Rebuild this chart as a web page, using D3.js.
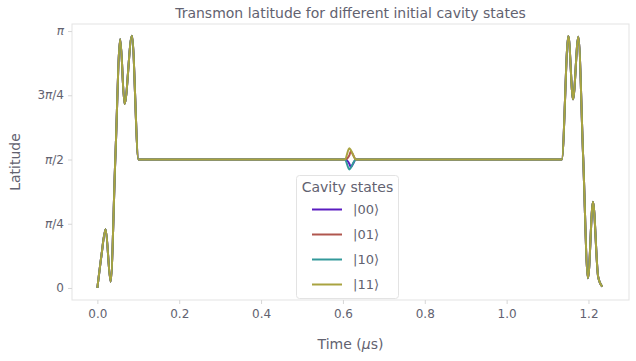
<!DOCTYPE html>
<html>
<head>
<meta charset="utf-8">
<script src="https://cdn.jsdelivr.net/npm/d3@7/dist/d3.min.js"></script>
<style>
body{margin:0;background:#fff;}
svg text{font-family:"DejaVu Sans",sans-serif;fill:#626270;}
</style>
</head>
<body>
<svg id="chart" width="636" height="361"></svg>
<script>
// ---- data ----
const seriesNames = ["|00\u27E9", "|01\u27E9", "|10\u27E9", "|11\u27E9"];
const seriesColors = ["#5a1cc0", "#b0564e", "#33999a", "#a9a340"];
const time = [0, 0.010, 0.0202, 0.0323, 0.044, 0.0559, 0.0664, 0.0844, 0.1004,
  0.605, 0.6156, 0.619, 0.632, 0.64,
  1.1348, 1.1509, 1.1623, 1.1752, 1.187, 1.1988, 1.211, 1.2236, 1.2336];
const lat00 = [0, 0.40, 0.717, 0.077, 1.60, 3.04, 2.249, 3.084, 1.5708,
  1.5708, 1.52, 1.48, 1.5708, 1.5708,
  1.5708, 3.080, 2.307, 3.072, 1.60, 0.119, 1.055, 0.138, 0.016];
const lat01 = [0, 0.40, 0.717, 0.077, 1.60, 3.04, 2.249, 3.084, 1.5708,
  1.5708, 1.62, 1.67, 1.5708, 1.5708,
  1.5708, 3.080, 2.307, 3.072, 1.60, 0.119, 1.055, 0.138, 0.016];
const lat10 = [0, 0.40, 0.717, 0.077, 1.60, 3.04, 2.249, 3.084, 1.5708,
  1.5708, 1.45, 1.47, 1.5708, 1.5708,
  1.5708, 3.080, 2.307, 3.072, 1.60, 0.119, 1.055, 0.138, 0.016];
const lat11 = [0, 0.40, 0.717, 0.077, 1.60, 3.04, 2.249, 3.084, 1.5708,
  1.5708, 1.71, 1.69, 1.5708, 1.5708,
  1.5708, 3.080, 2.307, 3.072, 1.60, 0.119, 1.055, 0.138, 0.016];
const seriesValues = [lat00, lat01, lat10, lat11];
const xTicks = [0.0, 0.2, 0.4, 0.6, 0.8, 1.0, 1.2];
const yTicks = [0, Math.PI/4, Math.PI/2, 3*Math.PI/4, Math.PI];
const yTickLabels = [["0"], [["π",1], "/4"], [["π",1], "/2"], ["3", ["π",1], "/4"], [["π",1]]];

// ---- layout ----
const svg = d3.select("#chart");
const L = 72, R = 629, T = 24, B = 300;
const x = d3.scaleLinear().domain([-0.062, 1.299]).range([L, R]);
const y = d3.scaleLinear().domain([-0.147, 3.228]).range([B, T]);

// frame
svg.append("rect").attr("x", L).attr("y", T).attr("width", R-L).attr("height", B-T)
  .attr("fill", "#fff").attr("stroke", "#e3e3e3").attr("stroke-width", 1);

// x axis
const xa = svg.append("g").attr("transform", `translate(0,${B})`)
  .call(d3.axisBottom(x).tickValues(xTicks).tickFormat(d3.format(".1f")).tickSize(4).tickPadding(5));
xa.select(".domain").remove();
xa.selectAll("line").attr("stroke", "#d6d6d6");
xa.selectAll("text").style("font-size", "12px").attr("fill", "#626270");

// y axis
const ya = svg.append("g").attr("transform", `translate(${L},0)`)
  .call(d3.axisLeft(y).tickValues(yTicks).tickFormat("").tickSize(4));
ya.select(".domain").remove();
ya.selectAll("line").attr("stroke", "#d6d6d6");
yTicks.forEach((v, i) => {
  const t = svg.append("text").attr("x", L - 8).attr("y", y(v)).attr("dy", "0.35em")
    .attr("text-anchor", "end").style("font-size", "12px");
  yTickLabels[i].forEach(part => {
    if (Array.isArray(part)) t.append("tspan").style("font-style", "italic").text(part[0]);
    else t.append("tspan").text(part);
  });
});

// lines
const line = d3.line().x((d, i) => x(time[i])).y(d => y(d)).curve(d3.curveMonotoneX);
seriesValues.forEach((vals, k) => {
  svg.append("path").datum(vals).attr("d", line)
    .attr("fill", "none").attr("stroke", seriesColors[k]).attr("stroke-width", 2)
    .attr("stroke-linejoin", "round");
});

// title & labels
svg.append("text").attr("x", (L+R)/2).attr("y", 18).attr("text-anchor", "middle")
  .style("font-size", "14px").text("Transmon latitude for different initial cavity states");
const xl = svg.append("text").attr("x", (L+R)/2).attr("y", 349).attr("text-anchor", "middle")
  .style("font-size", "14px");
xl.append("tspan").text("Time (");
xl.append("tspan").style("font-style", "italic").text("μ");
xl.append("tspan").text("s)");
svg.append("text").attr("transform", `translate(20,${(T+B)/2}) rotate(-90)`)
  .attr("text-anchor", "middle").style("font-size", "14px").text("Latitude");

// legend
const lg = svg.append("g");
lg.append("rect").attr("x", 296.5).attr("y", 175.5).attr("width", 102).attr("height", 123).attr("rx", 3)
  .attr("fill", "rgba(255,255,255,0.85)").attr("stroke", "#e3e3e3");
lg.append("text").attr("x", 347.5).attr("y", 192).attr("text-anchor", "middle")
  .style("font-size", "14px").text("Cavity states");
seriesNames.forEach((n, k) => {
  const yy = 209.5 + k * 25;
  lg.append("line").attr("x1", 312).attr("x2", 342).attr("y1", yy).attr("y2", yy)
    .attr("stroke", seriesColors[k]).attr("stroke-width", 2);
  lg.append("text").attr("x", 353).attr("y", yy).attr("dy", "0.35em")
    .style("font-size", "13px").text(n);
});
</script>
</body>
</html>
